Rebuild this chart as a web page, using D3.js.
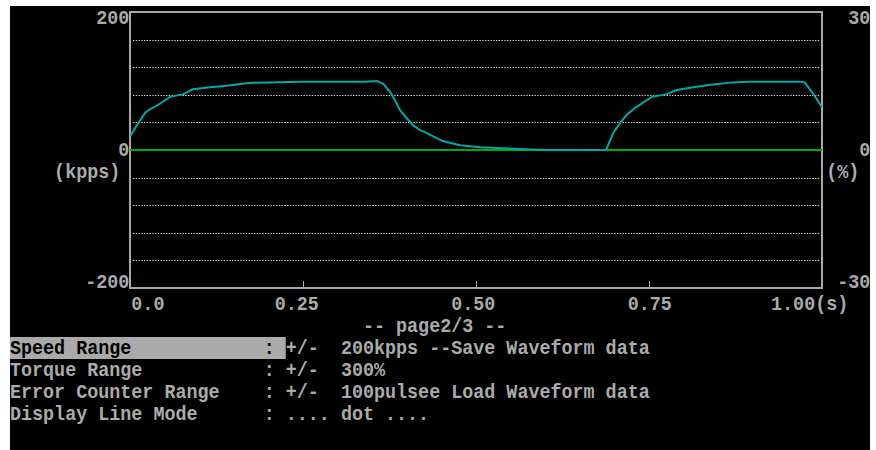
<!DOCTYPE html>
<html>
<head>
<meta charset="utf-8">
<script src="https://cdn.jsdelivr.net/npm/d3@7"></script>
<style>
  html, body { margin: 0; padding: 0; background: #fff; }
  svg { display: block; }
  text { font-family: "Liberation Mono", "DejaVu Sans Mono", monospace; font-weight: bold; white-space: pre; }
</style>
</head>
<body>
<script>
// speed trace (kpps)
const timeS = [0, 0.004, 0.012, 0.022, 0.029, 0.043, 0.058, 0.077, 0.091, 0.116, 0.14, 0.171, 0.198, 0.246,
  0.303, 0.34, 0.357, 0.366, 0.376, 0.383, 0.39, 0.4, 0.409, 0.419, 0.434, 0.452, 0.477, 0.506, 0.53, 0.571,
  0.6, 0.688, 0.698, 0.708, 0.718, 0.73, 0.754, 0.776, 0.79, 0.814, 0.842, 0.871, 0.892, 0.968, 0.975, 0.987, 1.0];
const speedKpps = [20, 26, 39, 54, 59, 67, 77, 81, 88, 91, 93, 97, 98, 99,
  99, 99, 100, 96, 84, 72, 58, 46, 36, 29, 22, 13, 7, 4, 3, 1,
  0, 0, 24, 39, 51, 61, 77, 81, 87, 91, 95, 98, 99, 99, 98, 82, 62];

// second trace (%), flat on zero
const torqueTime = [0, 1];
const torquePct = [0, 0];

const speedTicks = [200, 0, -200];
const pctTicks = [30, 0, -30];
const gridKpps = [-160, -120, -80, -40, 40, 80, 120, 160];
const timeTicks = [0, 0.25, 0.5, 0.75, 1.0];
const timeLabels = ["0.0", "0.25", "0.50", "0.75", "1.00(s)"];

const pageLabel = "-- page2/3 --";
const settingNames = ["Speed Range", "Torque Range", "Error Counter Range", "Display Line Mode"];
const settingValues = ["+/-  200kpps --Save Waveform data", "+/-  300%", "+/-  100pulsee Load Waveform data", ".... dot ...."];

const W = 876, H = 450;
// text-mode character grid
const X0 = 10, Y0 = 6, CW = 11.03, RH = 22;
const FG = "#ababab";

const svg = d3.select("body").append("svg").attr("width", W).attr("height", H);
svg.append("rect").attr("width", W).attr("height", H).attr("fill", "#fff");
svg.append("rect").attr("x", X0).attr("y", Y0).attr("width", 860).attr("height", H - Y0).attr("fill", "#000");

const x = d3.scaleLinear().domain([0, 1]).range([130, 822]);
const yL = d3.scaleLinear().domain([-200, 200]).range([288, 12]);
const yR = d3.scaleLinear().domain([-30, 30]).range([288, 12]);

const put = function (str, col, row, fill, dx) {
  return svg.append("text")
    .attr("x", X0 + col * CW + (dx || 0))
    .attr("y", Y0 + row * RH + 18)
    .attr("font-size", 21)
    .attr("textLength", str.length * CW)
    .attr("lengthAdjust", "spacingAndGlyphs")
    .attr("fill", fill || FG)
    .text(str);
};
const rowOf = function (py) {
  return Math.round((py - Y0 - RH / 2) / RH);
};

// dotted grid
svg.append("g").selectAll("line")
  .data(gridKpps)
  .enter()
  .append("line")
  .attr("x1", x(0) + 3)
  .attr("x2", x(1) - 2)
  .attr("y1", function (d) { return Math.round(yL(d)) + 0.5; })
  .attr("y2", function (d) { return Math.round(yL(d)) + 0.5; })
  .attr("stroke", "#d0d0d0")
  .attr("stroke-width", 1)
  .attr("stroke-dasharray", "1.4,1.35");

// frame
svg.append("rect")
  .attr("x", x(0))
  .attr("y", yL(200))
  .attr("width", x(1) - x(0))
  .attr("height", yL(-200) - yL(200))
  .attr("fill", "none")
  .attr("stroke", "#a8a8a8")
  .attr("stroke-width", 2);

svg.append("g").selectAll("line")
  .data(timeTicks.slice(1, -1))
  .enter()
  .append("line")
  .attr("x1", function (d) { return Math.round(x(d)) + 0.5; })
  .attr("x2", function (d) { return Math.round(x(d)) + 0.5; })
  .attr("y1", yL(-200))
  .attr("y2", yL(-200) - 7)
  .attr("stroke", "#a8a8a8")
  .attr("stroke-width", 1);

// traces
svg.append("path")
  .datum(d3.zip(torqueTime, torquePct))
  .attr("fill", "none")
  .attr("stroke", "#00aa00")
  .attr("stroke-width", 2)
  .attr("d", d3.line().x(function (d) { return x(d[0]); }).y(function (d) { return yR(d[1]); }));

svg.append("path")
  .datum(d3.zip(timeS, speedKpps))
  .attr("fill", "none")
  .attr("stroke", "#00a8a8")
  .attr("stroke-width", 2)
  .attr("d", d3.line().x(function (d) { return x(d[0]); }).y(function (d) { return yL(d[1]); }));

// axis labels snapped to the text grid
speedTicks.forEach(function (v) {
  var s = String(v);
  put(s, 11 - s.length, rowOf(yL(v)), FG, -2);
});
pctTicks.forEach(function (v) {
  var s = String(v);
  put(s, 78 - s.length, rowOf(yR(v)));
});
put("(kpps)", 4, 7);
put("(%)", 74, 7);

var xLabelCols = [11, 24, 40, 56, 69];
timeLabels.forEach(function (s, i) {
  put(s, xLabelCols[i], 13);
});

put(pageLabel, 32, 14);

// settings block, first row highlighted
svg.append("rect")
  .attr("x", X0)
  .attr("y", Y0 + 15 * RH + 1)
  .attr("width", 25 * CW)
  .attr("height", RH)
  .attr("fill", "#aaaaaa");

settingNames.forEach(function (name, i) {
  var row = 15 + i;
  var ink = i === 0 ? "#000" : FG;
  put(name, 0, row, ink);
  put(":", 23, row, ink);
  put(settingValues[i], 25, row);
});
</script>
</body>
</html>
